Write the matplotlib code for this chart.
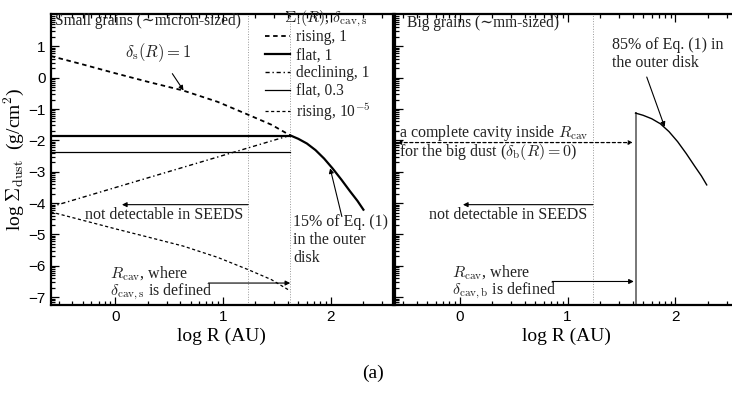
import numpy as np
import matplotlib
matplotlib.use("Agg")
import matplotlib.pyplot as plt
from matplotlib.ticker import FixedLocator

plt.rcParams['font.family'] = ['Liberation Serif', 'DejaVu Serif']
plt.rcParams['mathtext.fontset'] = 'cm'

# --- data (log R in AU, log Sigma in g/cm^2) ---
# small grains (left panel)
x_inner = [-0.6, -0.3, 0.0, 0.3, 0.63, 0.95, 1.24, 1.45, 1.625]
y_rising_1 = [0.69, 0.42, 0.14, -0.13, -0.41, -0.77, -1.19, -1.5, -1.84]
y_rising_1e5 = [-4.28, -4.55, -4.82, -5.08, -5.37, -5.73, -6.13, -6.44, -6.8]
x_line = [-0.6, 1.625]
y_flat_1 = [-1.86, -1.86]
y_flat_03 = [-2.38, -2.38]
y_declining_1 = [-4.12, -1.84]
x_outer_s = [1.625, 1.70, 1.78, 1.86, 1.94, 2.02, 2.10, 2.18, 2.25, 2.305]
y_outer_s = [-1.84, -1.95, -2.1, -2.31, -2.58, -2.9, -3.25, -3.62, -3.93, -4.21]
# big grains (right panel)
x_outer_b = [1.63, 1.70, 1.78, 1.86, 1.94, 2.02, 2.10, 2.18, 2.24, 2.29]
y_outer_b = [-1.13, -1.20, -1.31, -1.47, -1.72, -2.04, -2.42, -2.83, -3.13, -3.42]

legend_labels = ['rising, 1', 'flat, 1', 'declining, 1', 'flat, 0.3',
                 r'rising, 10$^{\mathsf{-5}}$']

r_cav = 1.625
r_seeds = 1.235
xlim = (-0.6, 2.58)
ylim = (-7.25, 2.03)

fig = plt.figure(figsize=(7.32, 3.95), dpi=100)
ax1 = fig.add_axes([50.7 / 732, 1 - 305 / 395, (393 - 50.7) / 732, 291 / 395])
ax2 = fig.add_axes([395 / 732, 1 - 305 / 395, 343 / 732, 291 / 395])

txt = '#222222'
fs = 11.5
arrow = dict(arrowstyle='-|>', lw=0.8, color='black', mutation_scale=7,
             shrinkA=0, shrinkB=0)

minor_x = [n + np.log10(k) for n in range(-1, 3) for k in range(2, 10)]
minor_y = [n + np.log10(k) for n in range(-8, 3) for k in range(2, 10)]

for ax in (ax1, ax2):
    ax.set_xlim(*xlim)
    ax.set_ylim(*ylim)
    ax.xaxis.set_major_locator(FixedLocator([0, 1, 2]))
    ax.yaxis.set_major_locator(FixedLocator(range(-7, 2)))
    ax.xaxis.set_minor_locator(FixedLocator(minor_x))
    ax.yaxis.set_minor_locator(FixedLocator(minor_y))
    ax.tick_params(which='both', direction='in', top=True, right=False,
                   labelfontfamily='Liberation Sans', labelsize=11, width=0.9)
    ax.tick_params(which='major', length=5.5)
    ax.tick_params(which='minor', length=2.8)
    for s in ax.spines.values():
        s.set_linewidth(1.6)
    ax.axvline(r_seeds, color='#999999', lw=0.7, ls=':')
    ax.set_xlabel('log R (AU)', fontsize=14, labelpad=3)

ax2.tick_params(labelleft=False)
ax2.spines['right'].set_visible(False)


def two_lines(ax, x, y_top, y_bot, line1, line2, **kw):
    ax.text(x, y_top, line1, fontsize=fs, color=txt, ha='left', va='baseline', **kw)
    ax.text(x, y_bot, line2, fontsize=fs, color=txt, ha='left', va='baseline', **kw)


# ---------- left panel: small grains ----------
ax1.axvline(r_cav, color='#999999', lw=0.7, ls=':')
l1, = ax1.plot(x_inner, y_rising_1, color='black', lw=1.3, dashes=(2.5, 2))
l2, = ax1.plot(x_line, y_flat_1, color='black', lw=1.6)
l3, = ax1.plot(x_line, y_declining_1, color='black', lw=1.0, dashes=(3, 2, 1, 2))
l4, = ax1.plot(x_line, y_flat_03, color='black', lw=0.9)
l5, = ax1.plot(x_inner, y_rising_1e5, color='black', lw=0.9, dashes=(2.5, 2))
ax1.plot(x_outer_s, y_outer_s, color='black', lw=1.6)

leg = ax1.legend([l1, l2, l3, l4, l5], legend_labels,
                 loc='upper left', bbox_to_anchor=(0.627, 0.947), frameon=False,
                 fontsize=11.2, handlelength=1.6, handletextpad=0.4,
                 labelspacing=0.12, borderpad=0.0, borderaxespad=0)
for t in leg.get_texts():
    t.set_color(txt)
ax1.text(0.804, 0.973, r'$\Sigma_{\rm i}(R)$, $\delta_{\rm cav,s}$', transform=ax1.transAxes,
         fontsize=11.5, color=txt, ha='center', va='baseline')

ax1.set_ylabel(r'log $\Sigma_{\rm dust}$  (g/cm$^2$)', fontsize=14, labelpad=2)
ax1.text(0.013, 0.961, 'Small grains (∼micron-sized)', transform=ax1.transAxes,
         fontsize=11.2, color=txt, va='baseline', ha='left')

ax1.annotate(r'$\delta_{\rm s}(R) = 1$', xy=(0.634, -0.41), xytext=(0.40, 0.8),
             fontsize=12, ha='center', va='center', color=txt,
             arrowprops=dict(arrowstyle='-|>', lw=0.8, color='black',
                             mutation_scale=7, shrinkA=6, shrinkB=0))
ax1.annotate('', xy=(0.062, -4.05), xytext=(r_seeds, -4.05), arrowprops=arrow)
ax1.text(1.19, -4.39, 'not detectable in SEEDS', fontsize=fs, color=txt,
         ha='right', va='center')
ax1.annotate('', xy=(r_cav, -6.55), xytext=(0.866, -6.55), arrowprops=arrow)
two_lines(ax1, -0.05, -6.4, -6.93, r'$R_{\rm cav}$, where', r'$\delta_{\rm cav,s}$ is defined')
ax1.annotate('', xy=(1.996, -2.89), xytext=(2.105, -4.43), arrowprops=arrow)
ax1.text(1.65, -5.17, '15% of Eq. (1)\nin the outer\ndisk', fontsize=fs,
         color=txt, ha='left', va='center', linespacing=1.15)

# ---------- right panel: big grains ----------
ax2.plot([x_outer_b[0], x_outer_b[0]], [ylim[0], y_outer_b[0]], color='#777777', lw=1.4)
ax2.plot(x_outer_b, y_outer_b, color='black', lw=1.0)
ax2.text(0.034, 0.957, 'Big grains (∼mm-sized)', transform=ax2.transAxes,
         fontsize=11.2, color=txt, va='baseline', ha='left')
ax2.annotate('', xy=(1.605, -2.07), xytext=(-0.58, -2.07),
             arrowprops=dict(arrowstyle='<|-|>', lw=0.9, color='black',
                             ls=(0, (2.5, 2)), mutation_scale=6,
                             shrinkA=0, shrinkB=0))
two_lines(ax2, -0.565, -1.88, -2.49, r'a complete cavity inside $R_{\rm cav}$',
          r'for the big dust ($\delta_{\rm b}(R) = 0$)')
ax2.annotate('', xy=(1.90, -1.57), xytext=(1.734, 0.02), arrowprops=arrow)
ax2.text(1.41, 0.75, '85% of Eq. (1) in\nthe outer disk', fontsize=fs,
         color=txt, ha='left', va='center', linespacing=1.15)
ax2.annotate('', xy=(0.03, -4.05), xytext=(r_seeds, -4.05), arrowprops=arrow)
ax2.text(1.18, -4.37, 'not detectable in SEEDS', fontsize=fs, color=txt,
         ha='right', va='center')
ax2.annotate('', xy=(1.614, -6.5), xytext=(0.857, -6.5), arrowprops=arrow)
two_lines(ax2, -0.07, -6.36, -6.9, r'$R_{\rm cav}$, where', r'$\delta_{\rm cav,b}$ is defined')

fig.text(373 / 732, 1 - 373 / 395, '(a)', fontsize=14, ha='center', va='center')

fig.savefig('out.png', dpi=100)
